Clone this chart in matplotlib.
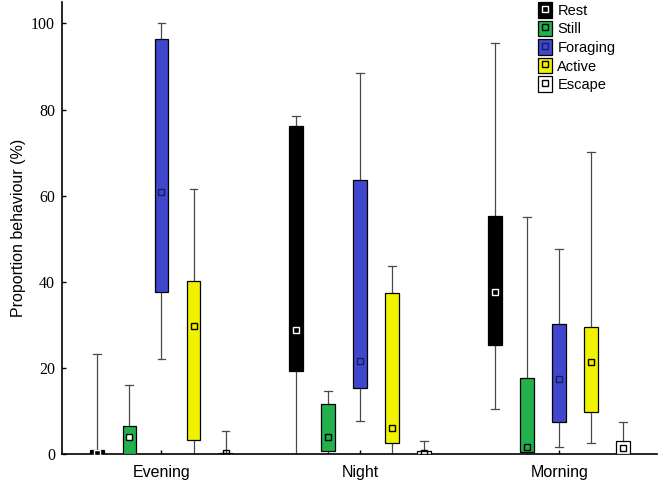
import numpy as np
import matplotlib
matplotlib.use("Agg")
import matplotlib.pyplot as plt
from matplotlib.patches import Patch
from matplotlib.lines import Line2D
from matplotlib.legend_handler import HandlerTuple

periods = ['Evening', 'Night', 'Morning']
behaviours = ['Rest', 'Still', 'Foraging', 'Active', 'Escape']
colours = ['#000000', '#22b14c', '#3f48cc', '#f0f200', '#ffffff']
mark_edge = ['#ffffff', '#000000', '#1a1a60', '#000000', '#000000']

# rows = periods, cols = behaviours
q1 = [[0.0, 0.0, 37.6, 3.3, 0.0],
      [19.3, 0.6, 15.3, 2.6, 0.0],
      [25.4, 0.5, 7.4, 9.8, 0.0]]
q3 = [[1.0, 6.6, 96.5, 40.2, 0.3],
      [76.2, 11.6, 63.6, 37.4, 0.7],
      [55.3, 17.6, 30.2, 29.6, 3.1]]
whis_lo = [[0.0, 0.0, 22.0, 0.0, 0.0],
           [0.0, 0.0, 7.7, 0.0, 0.0],
           [10.5, 0.0, 1.7, 2.6, 0.0]]
whis_hi = [[23.2, 16.0, 100.0, 61.6, 5.3],
           [78.4, 14.7, 88.4, 43.6, 3.0],
           [95.5, 55.0, 47.6, 70.2, 7.4]]
centre = [[0.3, 3.9, 60.9, 29.7, 0.2],
          [28.8, 3.9, 21.5, 6.0, 0.3],
          [37.6, 1.6, 17.4, 21.3, 1.5]]

plt.rcParams['font.family'] = 'Liberation Sans'

fig = plt.figure(figsize=(6.6, 4.82), dpi=100)
ax = fig.add_axes([0.094, 0.058, 0.901, 0.938])

offs = (np.arange(len(behaviours)) - 2) * 0.161
stats = []
pos = []
for i in range(len(periods)):
    for j in range(len(behaviours)):
        stats.append(dict(q1=q1[i][j], q3=q3[i][j], whislo=whis_lo[i][j],
                          whishi=whis_hi[i][j], med=centre[i][j],
                          mean=centre[i][j], fliers=[]))
        pos.append(i + offs[j])

bp = ax.bxp(stats, positions=pos, widths=0.07, capwidths=0.04,
            patch_artist=True, showmeans=True, showfliers=False,
            boxprops=dict(edgecolor='#000000', linewidth=0.9),
            whiskerprops=dict(color='#4a4a4a', linewidth=0.9),
            capprops=dict(color='#4a4a4a', linewidth=0.9),
            medianprops=dict(linewidth=0),
            meanprops=dict(marker='s', markersize=5, markerfacecolor='none',
                           markeredgewidth=1.0))

for k, box in enumerate(bp['boxes']):
    i, j = divmod(k, len(behaviours))
    box.set_facecolor(colours[j])
    box.set_zorder(3)
    m = bp['means'][k]
    m.set_markeredgecolor(mark_edge[j])
    m.set_zorder(4)
    if i == 0 and j == 1:
        m.set_markerfacecolor('#ffffff')

ax.set_xlim(-0.5, 2.49)
ax.set_ylim(0, 105)
ax.set_xticks(range(len(periods)))
ax.set_xticklabels(periods, fontsize=11.5)
ax.set_yticks([0, 20, 40, 60, 80, 100])
ax.set_yticklabels(['0', '20', '40', '60', '80', '100'],
                   family='Liberation Serif', fontsize=11.5)
ax.tick_params(axis='both', direction='in', length=3, width=1)
ax.tick_params(axis='x', pad=8)
ax.tick_params(axis='y', pad=5)
ax.spines['top'].set_visible(False)
ax.spines['right'].set_visible(False)
ax.spines['left'].set_linewidth(1.2)
ax.spines['bottom'].set_linewidth(1.2)
ax.set_ylabel('Proportion behaviour (%)', fontsize=11.5, labelpad=4)

handles = []
for j in range(len(behaviours)):
    handles.append((Patch(facecolor=colours[j], edgecolor='#000000', linewidth=0.9),
                    Line2D([], [], marker='s', linestyle='', markersize=5,
                           markerfacecolor='none', markeredgecolor=mark_edge[j])))
ax.legend(handles, behaviours, handler_map={tuple: HandlerTuple(ndivide=1)},
          loc='upper left', bbox_to_anchor=(0.79, 1.012), frameon=False,
          fontsize=10.5, handlelength=1.0, handleheight=1.25, handletextpad=0.35,
          labelspacing=0.2, borderaxespad=0)

fig.savefig('out.png', dpi=100)
